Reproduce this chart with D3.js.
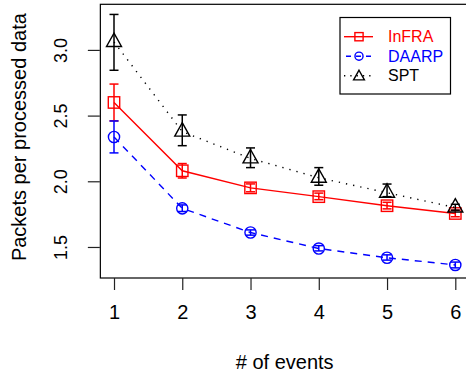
<!DOCTYPE html>
<html>
<head>
<meta charset="utf-8">
<script src="https://cdn.jsdelivr.net/npm/d3@7"></script>
<style>
  body { margin: 0; background: #fff; }
  text { font-family: "Liberation Sans", Arial, sans-serif; }
</style>
</head>
<body>
<svg id="chart" width="466" height="377"></svg>
<script>
const events = [1, 2, 3, 4, 5, 6];

const infraMean = [2.60, 2.08, 1.95, 1.883, 1.814, 1.755];
const infraLow  = [2.46, 2.025, 1.92, 1.86, 1.79, 1.73];
const infraHigh = [2.74, 2.135, 1.98, 1.91, 1.84, 1.78];

const daarpMean = [2.337, 1.794, 1.61, 1.488, 1.418, 1.363];
const daarpLow  = [2.216, 1.77, 1.59, 1.47, 1.40, 1.341];
const daarpHigh = [2.459, 1.82, 1.63, 1.51, 1.44, 1.385];

const sptMean = [3.06, 2.378, 2.174, 2.027, 1.913, 1.80];
const sptLow  = [2.845, 2.271, 2.104, 1.970, 1.883, 1.78];
const sptHigh = [3.27, 2.505, 2.254, 2.104, 1.979, 1.825];

const yTicks = [1.5, 2.0, 2.5, 3.0];

const series = [
  {name: "InFRA", mean: infraMean, low: infraLow, high: infraHigh, color: "#ff0000", dash: null, legendDash: null, shape: "square"},
  {name: "DAARP", mean: daarpMean, low: daarpLow, high: daarpHigh, color: "#0000ff", dash: "7,6", legendDash: "5,5", shape: "circle"},
  {name: "SPT",   mean: sptMean,   low: sptLow,   high: sptHigh,   color: "#000000", dash: "1.3,6", legendDash: "1.3,5", shape: "triangle"}
];

const plot = {left: 100.35, top: 4.3, bottom: 278};
const svg = d3.select("#chart");

// R-style 4% padding on both axes
const xExt = d3.extent(events);
const xPad = (xExt[1] - xExt[0]) * 0.04;
const x = d3.scaleLinear()
    .domain([xExt[0] - xPad, xExt[1] + xPad])
    .range([plot.left, plot.left + 68.26 * (xExt[1] - xExt[0] + 2 * xPad)]);

const allY = series.flatMap(s => s.low.concat(s.high));
const yExt = d3.extent(allY);
const yPad = (yExt[1] - yExt[0]) * 0.04;
const y = d3.scaleLinear()
    .domain([yExt[0] - yPad, yExt[1] + yPad])
    .range([plot.bottom, plot.top]);

// box
svg.append("rect")
    .attr("x", x.range()[0]).attr("y", plot.top)
    .attr("width", x.range()[1] - x.range()[0])
    .attr("height", plot.bottom - plot.top)
    .attr("fill", "none").attr("stroke", "#000").attr("stroke-width", 1.2);

// x axis
const xAxis = svg.append("g")
    .attr("transform", `translate(0,${plot.bottom})`)
    .call(d3.axisBottom(x).tickValues(events).tickSize(12).tickPadding(15).tickFormat(d3.format("d")));
xAxis.select(".domain").remove();
xAxis.selectAll("line").attr("stroke", "#222").attr("stroke-width", 1.2);
xAxis.selectAll("text").attr("font-size", 20).attr("fill", "#000")
    .attr("font-family", "Liberation Sans, Arial, sans-serif");

// y axis
const yAxis = svg.append("g")
    .attr("transform", `translate(${plot.left - 0.5},0)`)
    .call(d3.axisLeft(y).tickValues(yTicks).tickSize(12).tickFormat(d3.format(".1f")));
yAxis.select(".domain").remove();
yAxis.selectAll("line").attr("stroke", "#222").attr("stroke-width", 1.2);
yAxis.selectAll("text")
    .attr("font-size", 18).attr("fill", "#000")
    .attr("font-family", "Liberation Sans, Arial, sans-serif")
    .attr("x", null).attr("dy", null)
    .attr("text-anchor", "middle")
    .attr("transform", "translate(-33,0) rotate(-90)");

// axis titles
svg.append("text")
    .attr("x", (x(1) + x(6)) / 2).attr("y", 369)
    .attr("text-anchor", "middle").attr("font-size", 20)
    .text("# of events");

svg.append("text")
    .attr("transform", `translate(25.5,${(plot.top + plot.bottom) / 2 - 4}) rotate(-90)`)
    .attr("text-anchor", "middle").attr("font-size", 20)
    .text("Packets per processed data");

function marker(g, shape, cx, cy, color, k) {
  if (shape === "square") {
    const a = 5.7 * k;
    g.append("rect").attr("x", cx - a).attr("y", cy - a)
      .attr("width", 2 * a).attr("height", 2 * a)
      .attr("fill", "none").attr("stroke", color).attr("stroke-width", 1.4);
  } else if (shape === "circle") {
    g.append("circle").attr("cx", cx).attr("cy", cy).attr("r", 5.6 * k)
      .attr("fill", "none").attr("stroke", color).attr("stroke-width", 1.4);
  } else {
    const w = 7.5 * k, h = 13.4 * k;
    g.append("path")
      .attr("d", `M${cx},${cy - 2 * h / 3}L${cx + w},${cy + h / 3}L${cx - w},${cy + h / 3}Z`)
      .attr("fill", "none").attr("stroke", color).attr("stroke-width", 1.4);
  }
}

const line = d3.line().x(d => x(d[0])).y(d => y(d[1]));

series.forEach(s => {
  const g = svg.append("g");
  const pts = events.map((e, i) => [e, s.mean[i]]);
  g.append("path")
    .attr("d", line(pts))
    .attr("fill", "none").attr("stroke", s.color).attr("stroke-width", 1.4)
    .attr("stroke-dasharray", s.dash);

  events.forEach((e, i) => {
    const cx = x(e);
    g.append("line")
      .attr("x1", cx).attr("x2", cx)
      .attr("y1", y(s.low[i])).attr("y2", y(s.high[i]))
      .attr("stroke", s.color).attr("stroke-width", 1.5);
    [s.low[i], s.high[i]].forEach(v => {
      g.append("line")
        .attr("x1", cx - 4.5).attr("x2", cx + 4.5)
        .attr("y1", y(v)).attr("y2", y(v))
        .attr("stroke", s.color).attr("stroke-width", 1.5);
    });
    marker(g, s.shape, cx, y(s.mean[i]), s.color, 1);
  });
});

// legend
const legend = svg.append("g");
legend.append("rect")
    .attr("x", 340).attr("y", 17.5).attr("width", 110.5).attr("height", 76.5)
    .attr("fill", "#fff").attr("stroke", "#000").attr("stroke-width", 1.2);

series.forEach((s, i) => {
  const ly = 36.7 + i * 19.5;
  legend.append("line")
    .attr("x1", 344).attr("x2", 373).attr("y1", ly).attr("y2", ly)
    .attr("stroke", s.color).attr("stroke-width", 1.4)
    .attr("stroke-dasharray", s.legendDash)
    .attr("stroke-dashoffset", i === 1 ? -2 : 0);
  marker(legend, s.shape, 359, s.shape === "triangle" ? ly + 1 : ly, s.color, 0.72);
  legend.append("text")
    .attr("x", 388).attr("y", ly).attr("dy", "0.36em")
    .attr("font-size", 16).attr("fill", s.color)
    .text(s.name);
});
</script>
</body>
</html>
